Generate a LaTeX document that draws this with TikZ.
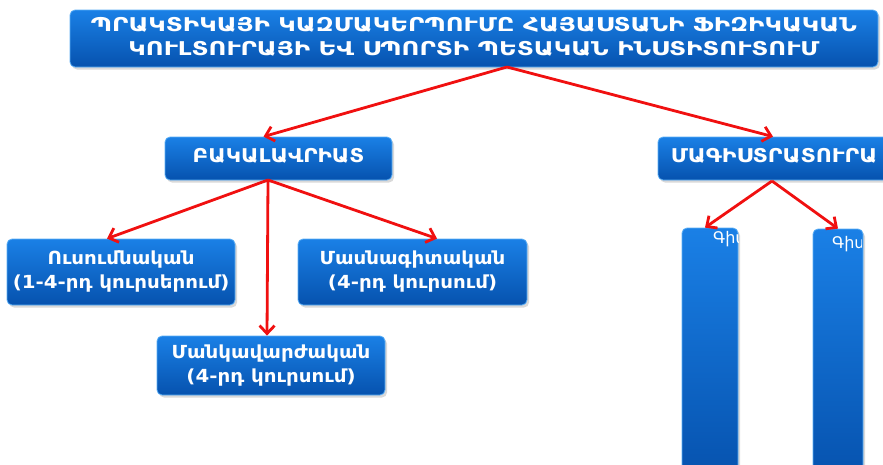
\documentclass[tikz,border=0pt]{standalone}
\usepackage{fontspec}
\newfontfamily\armfont{DejaVu Sans}
\usetikzlibrary{arrows.meta,shadows,calc}
\definecolor{boxtop}{HTML}{1A80E6}
\definecolor{boxbot}{HTML}{0652AE}
\definecolor{boxedge}{HTML}{5AAEF5}
\definecolor{arrred}{HTML}{F01010}
\newcommand\wtxt[2]{\scalebox{#1}[1]{\begin{tabular}{@{}c@{}}#2\end{tabular}}}
\begin{document}
\begin{tikzpicture}[x=1pt,y=-1pt,
  box/.style={draw=boxedge, line width=0.8pt, rounded corners=5pt,
    top color=boxtop, bottom color=boxbot,
    drop shadow={opacity=0.3, shadow xshift=2pt, shadow yshift=-2.5pt},
    text=white, font=\armfont\bfseries, align=center, inner sep=0pt},
  conn/.style={draw=arrred, line width=2.8pt,
    -{Straight Barb[length=8pt,width=15pt,line width=2.8pt]}}
]
\useasboundingbox (0,0) rectangle (883,464);
\node[box, minimum width=808pt, minimum height=57pt,
  font=\armfont\bfseries\fontsize{19}{24}\selectfont] (title) at (474,38.5)
  {\wtxt{1.29}{ՊՐԱԿՏԻԿԱՅԻ ԿԱԶՄԱԿԵՐՊՈՒՄԸ ՀԱՅԱՍՏԱՆԻ ՖԻԶԻԿԱԿԱՆ\\ԿՈՒԼՏՈՒՐԱՅԻ ԵՎ ՍՊՈՐՏԻ ՊԵՏԱԿԱՆ ԻՆՍՏԻՏՈՒՏՈՒՄ}};
\node[box, minimum width=227pt, minimum height=43pt,
  font=\armfont\bfseries\fontsize{19}{22}\selectfont] (bak) at (278.5,158.5)
  {\wtxt{1.13}{ԲԱԿԱԼԱՎՐԻԱՏ}};
\node[box, minimum width=232pt, minimum height=43pt,
  font=\armfont\bfseries\fontsize{19}{22}\selectfont] (mag) at (774,158.5)
  {\wtxt{1.16}{ՄԱԳԻՍՏՐԱՏՈՒՐԱ}};
\node[box, minimum width=228pt, minimum height=66pt,
  font=\armfont\bfseries\fontsize{18}{24}\selectfont] (usum) at (121,272)
  {\wtxt{1.1}{Ուսումնական\\(1-4-րդ կուրսերում)}};
\node[box, minimum width=229pt, minimum height=66pt,
  font=\armfont\bfseries\fontsize{18}{24}\selectfont] (masn) at (412.5,272)
  {\wtxt{1.1}{Մասնագիտական\\(4-րդ կուրսում)}};
\node[box, minimum width=228pt, minimum height=59pt,
  font=\armfont\bfseries\fontsize{18}{24}\selectfont] (mank) at (271,365.5)
  {\wtxt{1.1}{Մանկավարժական\\(4-րդ կուրսում)}};
\node[box, minimum width=56pt, minimum height=250pt] (tallA) at (710,353) {};
\node[box, minimum width=50pt, minimum height=250pt] (tallB) at (838,354) {};
\begin{scope}
  \clip (682,228) rectangle (738,464);
  \node[anchor=north west, text=white, inner sep=0pt,
    font=\armfont\fontsize{16}{18}\selectfont] (txtA) at (713,231) {Գիտ};
\end{scope}
\begin{scope}
  \clip (813,229) rectangle (861,464);
  \node[anchor=north west, text=white, inner sep=0pt,
    font=\armfont\fontsize{16}{18}\selectfont] (txtB) at (832,236) {Գիտ};
\end{scope}
\coordinate (tb) at (507,67);
\coordinate (bb) at (268,180);
\coordinate (mb) at (772,181);
\draw[conn] (tb) -- ([xshift=-15pt]bak.north);
\draw[conn] (tb) -- ([xshift=-1pt]mag.north);
\draw[conn] (bb) -- ([xshift=-14pt]usum.north);
\draw[conn] (bb) -- ([xshift=24.5pt]masn.north);
\draw[conn] (bb) -- ([xshift=-4pt]mank.north);
\draw[conn] (mb) -- ([xshift=-5pt]tallA.north);
\draw[conn] (mb) -- ([xshift=0pt]tallB.north);
\end{tikzpicture}
\end{document}
